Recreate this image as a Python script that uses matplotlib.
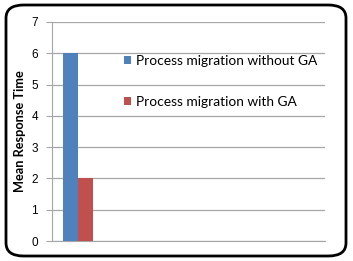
import matplotlib.pyplot as plt
from matplotlib.patches import FancyBboxPatch

# data
series = ['Process migration without GA', 'Process migration with GA']
values = [6, 2]
colors = ['#4F81BD', '#C0504D']
yticks = [0, 1, 2, 3, 4, 5, 6, 7]

fig = plt.figure(figsize=(3.53, 2.61), dpi=100)

# rounded outer frame
frame = FancyBboxPatch((6 / 353, 5 / 261), 340 / 353, 251 / 261,
                       boxstyle='round,pad=0,rounding_size=0.05',
                       transform=fig.transFigure, fill=False,
                       edgecolor='black', linewidth=2.0, zorder=0)
fig.patches.append(frame)

ax = fig.add_axes([52 / 353, 20 / 261, 273 / 353, 219 / 261])
ax.set_facecolor('none')

# bars, one per series, side by side
for i, (name, v, c) in enumerate(zip(series, values, colors)):
    ax.bar(i, v, width=1.0, color=c, label=name, zorder=3)

ax.set_xlim(-1.233, 16.97)
ax.set_ylim(0, 7)
ax.set_yticks(yticks)
ax.set_xticks([])

ax.grid(axis='y', color='#A6A6A6', linewidth=0.9, zorder=0)
for s in ['top', 'right']:
    ax.spines[s].set_visible(False)
ax.spines['left'].set_color('#A6A6A6')
ax.spines['bottom'].set_color('#A6A6A6')
ax.tick_params(axis='y', length=4, color='#A6A6A6', labelsize=8.5, pad=6)
for lab in ax.get_yticklabels():
    lab.set_family('Liberation Sans')

ax.set_ylabel('Mean Response Time', family='Lato', fontweight='bold',
              fontsize=9.2, labelpad=4)

ax.legend(loc='upper left', bbox_to_anchor=(0.262, 0.85), frameon=False,
          prop={'family': 'Lato', 'size': 9.9}, handlelength=0.55,
          handleheight=0.55, handletextpad=0.35, labelspacing=2.1,
          borderaxespad=0, borderpad=0)

fig.savefig('out.png', dpi=100)
